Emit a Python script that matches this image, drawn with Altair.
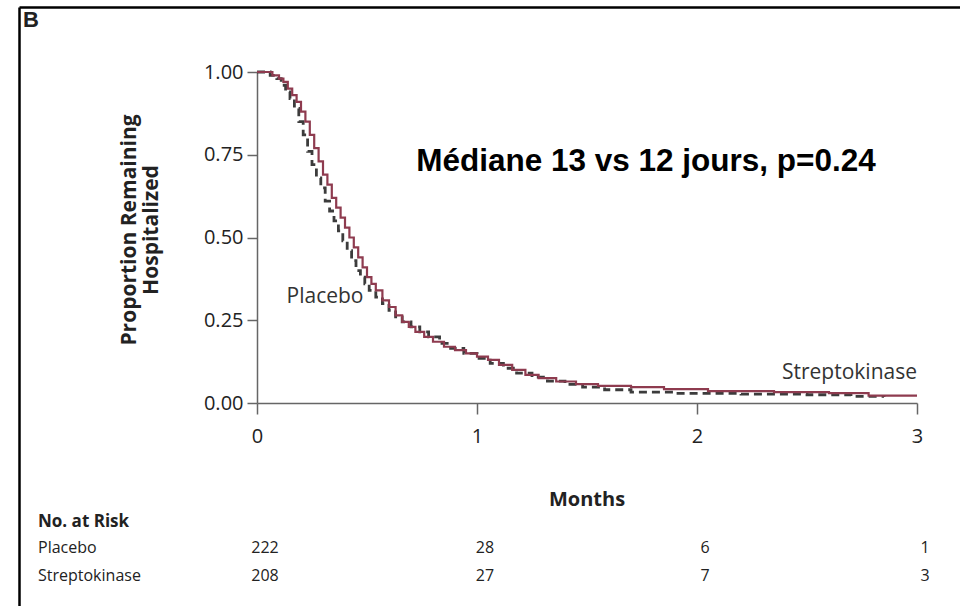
import altair as alt
import pandas as pd

# ---- data ----
strep_t = [0, 0.07, 0.10, 0.12, 0.14, 0.16, 0.18, 0.20, 0.22, 0.24, 0.26, 0.28, 0.30, 0.32, 0.34,
           0.36, 0.38, 0.40, 0.42, 0.44, 0.46, 0.48, 0.50, 0.52, 0.54, 0.57, 0.60, 0.63, 0.66, 0.69,
           0.72, 0.76, 0.80, 0.85, 0.90, 0.95, 1.00, 1.05, 1.10, 1.16, 1.22, 1.28, 1.36, 1.45, 1.55,
           1.70, 1.85, 2.05, 2.35, 2.60, 2.78, 3.00]
strep_s = [1.00, 0.99, 0.98, 0.97, 0.95, 0.93, 0.91, 0.88, 0.85, 0.81, 0.77, 0.73, 0.69, 0.66, 0.62,
           0.59, 0.56, 0.53, 0.50, 0.47, 0.44, 0.41, 0.38, 0.36, 0.34, 0.31, 0.29, 0.265, 0.245, 0.23,
           0.215, 0.20, 0.185, 0.17, 0.16, 0.15, 0.14, 0.13, 0.115, 0.10, 0.085, 0.075, 0.065, 0.057, 0.052,
           0.048, 0.042, 0.036, 0.033, 0.030, 0.022, 0.022]

plac_t = [0, 0.06, 0.09, 0.11, 0.13, 0.15, 0.17, 0.19, 0.21, 0.23, 0.25, 0.27, 0.29, 0.31, 0.33,
          0.35, 0.37, 0.39, 0.41, 0.43, 0.45, 0.47, 0.49, 0.51, 0.54, 0.57, 0.60, 0.63, 0.66, 0.70,
          0.74, 0.78, 0.83, 0.88, 0.94, 1.00, 1.06, 1.12, 1.18, 1.25, 1.32, 1.40, 1.48, 1.58, 1.70,
          1.90, 2.20, 2.50, 2.70, 2.85]
plac_s = [1.00, 0.99, 0.98, 0.96, 0.94, 0.92, 0.89, 0.85, 0.81, 0.76, 0.72, 0.68, 0.65, 0.61, 0.58,
          0.55, 0.52, 0.49, 0.46, 0.43, 0.40, 0.38, 0.36, 0.34, 0.32, 0.30, 0.28, 0.26, 0.245, 0.23,
          0.215, 0.20, 0.18, 0.165, 0.15, 0.135, 0.12, 0.105, 0.09, 0.078, 0.066, 0.056, 0.048, 0.040, 0.033,
          0.029, 0.027, 0.025, 0.020, 0.018]

risk_months = [0, 1, 2, 3]
risk_placebo = [222, 28, 6, 1]
risk_strep = [208, 27, 7, 3]

y_ticks = [0, 0.25, 0.5, 0.75, 1.0]
x_ticks = [0, 1, 2, 3]

# ---- layout (pixels) ----
PL, PT, W, H = 257, 72, 660, 331
FONT = "Open Sans"

strep_df = pd.DataFrame({"t": strep_t, "s": strep_s})
plac_df = pd.DataFrame({"t": plac_t, "s": plac_s})
risk_df = pd.DataFrame({"t": risk_months * 2,
                        "n": risk_placebo + risk_strep,
                        "g": ["Placebo"] * 4 + ["Streptokinase"] * 4})

xs = alt.Scale(domain=[0, 3], nice=False, zero=False)
ys = alt.Scale(domain=[0, 1], nice=False)

x_axis = alt.Axis(values=x_ticks, title=None, format="d", tickSize=11, labelFontSize=20,
                  labelFont=FONT, labelColor="#222", domainColor="#666", tickColor="#666",
                  labelPadding=12, grid=False, domainWidth=1.5, tickWidth=1.5,
                  labelFlush=False, labelOverlap=False)
y_axis = alt.Axis(values=y_ticks, title=None, format=".2f", tickSize=10, labelFontSize=20,
                  labelFont=FONT, labelColor="#222", domainColor="#666", tickColor="#666",
                  labelPadding=4, grid=False, domainWidth=1.5, tickWidth=1.5,
                  labelFlush=False, labelOverlap=False)

plac_line = alt.Chart(plac_df).mark_line(
    interpolate="step-after", color="#3c3c3c", strokeWidth=2.8, strokeDash=[8, 5]
).encode(x=alt.X("t:Q", scale=xs, axis=x_axis), y=alt.Y("s:Q", scale=ys, axis=y_axis))

strep_line = alt.Chart(strep_df).mark_line(
    interpolate="step-after", color="#8e3b4f", strokeWidth=2.2
).encode(x=alt.X("t:Q", scale=xs), y=alt.Y("s:Q", scale=ys))


def txt(label, x, y, size, weight="normal", font=FONT, align="left", angle=0, color="#222"):
    return alt.Chart(pd.DataFrame({"label": [label]})).mark_text(
        fontSize=size, fontWeight=weight, font=font, align=align, baseline="middle",
        angle=angle, color=color
    ).encode(text="label:N", x=alt.value(x - PL), y=alt.value(y - PT))


risk_p = alt.Chart(risk_df).transform_filter(alt.datum.g == "Placebo").mark_text(
    fontSize=16, font=FONT, color="#222", align="center", baseline="middle", dx=8
).encode(x=alt.X("t:Q", scale=xs), y=alt.value(548 - PT), text="n:Q")
risk_s = alt.Chart(risk_df).transform_filter(alt.datum.g == "Streptokinase").mark_text(
    fontSize=16, font=FONT, color="#222", align="center", baseline="middle", dx=8
).encode(x=alt.X("t:Q", scale=xs), y=alt.value(576 - PT), text="n:Q")

border_df = pd.DataFrame({"k": [0]})
border_top = alt.Chart(border_df).mark_rule(color="#000", strokeWidth=2.5).encode(
    x=alt.value(19.5 - PL), x2=alt.value(960 - PL), y=alt.value(7.5 - PT))
border_left = alt.Chart(border_df).mark_rule(color="#000", strokeWidth=2.5).encode(
    x=alt.value(19.5 - PL), y=alt.value(7.5 - PT), y2=alt.value(606 - PT))

chart = alt.layer(
    border_top, border_left,
    plac_line, strep_line,
    txt("B", 23, 20, 22, "bold", "Liberation Sans"),
    txt("Médiane 13 vs 12 jours, p=0.24", 646, 162, 31.5, "bold", "Liberation Sans", "center", color="#000"),
    txt("Placebo", 325, 297, 21, align="center", color="#333"),
    txt("Streptokinase", 917, 373, 21, align="right", color="#333"),
    txt("Months", 587, 500, 20, "bold", align="center"),
    txt("Proportion Remaining", 130, 230, 21, "bold", align="center", angle=270),
    txt("Hospitalized", 152, 230, 21, "bold", align="center", angle=270),
    txt("No. at Risk", 38, 522, 17, "bold"),
    txt("Placebo", 38, 548, 16),
    txt("Streptokinase", 38, 576, 16),
    risk_p, risk_s,
).properties(
    width=W, height=H,
    autosize=alt.AutoSizeParams(type="none"),
    padding={"left": PL, "top": PT, "right": 960 - PL - W, "bottom": 606 - PT - H},
    background="white",
).configure_view(stroke=None)

chart.save("out.html", embed_options={"renderer": "svg", "actions": False})
